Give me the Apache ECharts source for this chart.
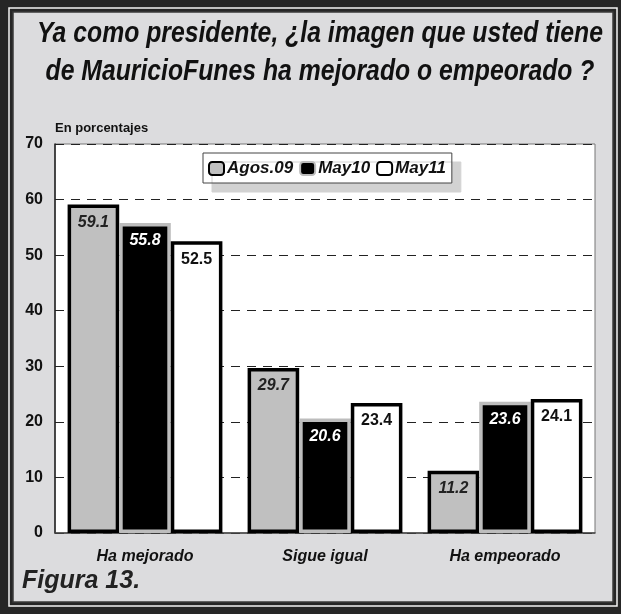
<!DOCTYPE html>
<html>
<head>
<meta charset="utf-8">
<script src="https://cdn.jsdelivr.net/npm/echarts@6/dist/echarts.min.js"></script>
<style>
  html, body { margin: 0; padding: 0; background: #262626; }
  #main { width: 621px; height: 614px; }
</style>
</head>
<body>
<div id="main"></div>
<script>
const categories = ["Ha mejorado", "Sigue igual", "Ha empeorado"];
const agos09 = [59.1, 29.7, 11.2];
const may10 = [55.8, 20.6, 23.6];
const may11 = [52.5, 23.4, 24.1];
const yTicks = [0, 10, 20, 30, 40, 50, 60, 70];
const titleLines = ["Ya como presidente, ¿la imagen que usted tiene", "de MauricioFunes ha mejorado o empeorado ?"];

const font = '"Liberation Sans", Arial, sans-serif';

// Arial Narrow is not installed, so squeeze the title horizontally
const titleSize = 29;
let ctx = document.createElement("canvas").getContext("2d");
ctx.font = "italic bold " + titleSize + "px " + font;
let titleScale = 566 / ctx.measureText(titleLines[0]).width;

let chart = echarts.init(document.getElementById("main"));

function barSeries(name, data, fill, border, labelColor, italic) {
  return {
    name: name,
    type: "bar",
    data: data,
    barGap: "0%",
    barCategoryGap: "14%",
    itemStyle: { color: fill, borderColor: border, borderWidth: 3.5 },
    label: {
      show: true,
      position: "insideTop",
      distance: 10,
      color: labelColor,
      fontFamily: font,
      fontWeight: "bold",
      fontStyle: italic ? "italic" : "normal",
      fontSize: 16,
      formatter: (p) => p.value.toFixed(1),
    },
  };
}

let option = {
  backgroundColor: "#262626",
  animation: false,
  graphic: [
    {
      type: "rect",
      z: -10,
      shape: { x: 9, y: 8, width: 608, height: 598 },
      style: { fill: "none", stroke: "#f4f4f4", lineWidth: 1.5 },
    },
    {
      type: "rect",
      z: -10,
      shape: { x: 13, y: 12, width: 600, height: 590 },
      style: { fill: "#dcdcde", stroke: "#3a3a3a", lineWidth: 1.5 },
    },
    {
      type: "text",
      x: 320,
      y: 15,
      scaleX: titleScale,
      style: {
        text: titleLines.join("\n"),
        x: 0,
        y: 0,
        align: "center",
        verticalAlign: "top",
        font: "italic bold " + titleSize + "px " + font,
        lineHeight: 38,
        fill: "#111",
      },
    },
    {
      type: "text",
      x: 22,
      y: 569,
      style: {
        text: "Figura 13.",
        font: "italic bold 25px " + font,
        fill: "#222",
        verticalAlign: "top",
      },
    },
  ],
  legend: {
    left: 203,
    top: 153,
    itemWidth: 15,
    itemHeight: 13,
    itemGap: 6,
    padding: [7, 6, 6, 5],
    backgroundColor: "#fff",
    borderColor: "#444",
    borderWidth: 1,
    shadowColor: "#d2d2d2",
    shadowOffsetX: 9,
    shadowOffsetY: 9,
    textStyle: {
      fontFamily: font,
      fontStyle: "italic",
      fontWeight: "bold",
      fontSize: 17,
      color: "#111",
      padding: [0, 0, 0, -2],
    },
    data: ["Agos.09", "May10", "May11"],
  },
  grid: {
    left: 55,
    right: 26,
    top: 144,
    bottom: 81,
    show: true,
    backgroundColor: "#fff",
    borderColor: "#777",
    borderWidth: 1,
  },
  xAxis: {
    type: "category",
    data: categories,
    axisTick: { show: false },
    axisLine: { lineStyle: { color: "#444", width: 1.5 } },
    axisLabel: {
      margin: 16,
      color: "#111",
      fontFamily: font,
      fontStyle: "italic",
      fontWeight: "bold",
      fontSize: 16,
    },
  },
  yAxis: {
    type: "value",
    min: yTicks[0],
    max: yTicks[yTicks.length - 1],
    interval: 10,
    name: "En porcentajes",
    nameLocation: "end",
    nameGap: 9,
    nameTextStyle: {
      align: "left",
      color: "#111",
      fontFamily: font,
      fontWeight: "bold",
      fontSize: 13,
      padding: [0, 0, 0, 0],
    },
    axisLine: { show: true, lineStyle: { color: "#222", width: 1.5 } },
    axisTick: { show: false },
    axisLabel: {
      margin: 12,
      color: "#111",
      fontFamily: font,
      fontWeight: "bold",
      fontSize: 16,
    },
    splitLine: { lineStyle: { color: "#222", type: [9, 7], width: 1 } },
  },
  series: [
    barSeries("Agos.09", agos09, "#c0c0c0", "#000", "#222", true),
    barSeries("May10", may10, "#000", "#bdbdbd", "#fff", true),
    barSeries("May11", may11, "#fff", "#000", "#111", false),
  ],
};

chart.setOption(option);
</script>
</body>
</html>
